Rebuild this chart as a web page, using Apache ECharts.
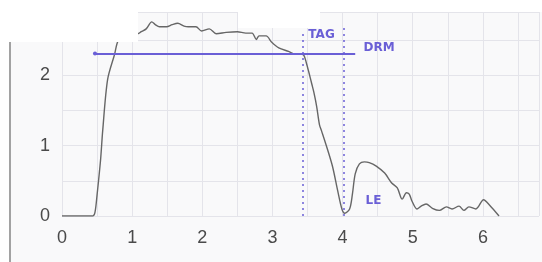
<!DOCTYPE html>
<html>
<head>
<meta charset="utf-8">
<script src="https://cdn.jsdelivr.net/npm/echarts@6/dist/echarts.min.js"></script>
<style>
  html, body { margin: 0; padding: 0; background: #fff; }
  #chart { width: 542px; height: 262px; }
</style>
</head>
<body>
<div id="chart"></div>
<script>
// trace (x, y)
const traceX = [0, 0.2, 0.44, 0.47, 0.5, 0.55, 0.58, 0.65, 0.75, 0.8, 0.9, 1.0, 1.08, 1.13, 1.2, 1.28, 1.33,
  1.39, 1.49, 1.57, 1.65, 1.74, 1.8, 1.91, 1.99, 2.1, 2.2, 2.34, 2.5, 2.62, 2.71, 2.77, 2.81, 2.91, 2.99,
  3.09, 3.23, 3.33, 3.42, 3.45, 3.48, 3.52, 3.56, 3.59, 3.63, 3.67, 3.7, 3.79, 3.86, 3.93, 3.99, 4.03,
  4.1, 4.14, 4.18, 4.24, 4.31, 4.38, 4.48, 4.6, 4.7, 4.78, 4.85, 4.91, 4.95, 4.99, 5.06, 5.12, 5.19,
  5.28, 5.38, 5.48, 5.56, 5.66, 5.73, 5.8, 5.9, 6.01, 6.09, 6.23]
const traceY = [0, 0, 0, 0.05, 0.3, 0.8, 1.21, 1.94, 2.3, 2.49, 2.57, 2.6, 2.59, 2.62, 2.66, 2.76, 2.72,
  2.69, 2.69, 2.72, 2.74, 2.7, 2.69, 2.69, 2.63, 2.66, 2.59, 2.61, 2.62, 2.6, 2.6, 2.51, 2.56, 2.56, 2.47,
  2.39, 2.34, 2.3, 2.3, 2.28, 2.19, 2.04, 1.88, 1.76, 1.56, 1.3, 1.21, 0.93, 0.69, 0.36, 0.1, 0.04,
  0.1, 0.31, 0.6, 0.74, 0.77, 0.76, 0.71, 0.61, 0.47, 0.4, 0.24, 0.33, 0.31, 0.21, 0.1, 0.14, 0.17,
  0.11, 0.08, 0.13, 0.1, 0.14, 0.08, 0.13, 0.1, 0.23, 0.16, 0]

// annotation levels
const drmLevel = 2.31
const drmFrom = 0.47
const drmTo = 4.18
const tagX = 3.43
const leX = 4.01
const tagTop = 2.64
const leTop = 2.7
const noteNames = ['DRM', 'TAG', 'LE']
const noteX = [4.52, 3.7, 4.44]
const noteY = [2.39, 2.58, 0.21]

const chart = echarts.init(document.getElementById('chart'))

const blue = '#6a5fd6'
const gridColor = '#e4e4ea'
const labelColor = '#4a4a4a'

const intOnly = v => (Number.isInteger(v) ? String(v) : '')

const option = {
  animation: false,
  backgroundColor: '#ffffff',
  grid: { left: 62, right: 0, top: 12, bottom: 46 },
  xAxis: {
    type: 'value',
    min: 0,
    max: 6.8,
    interval: 0.5,
    axisLine: { show: false },
    axisTick: { show: false },
    axisLabel: {
      formatter: intOnly, color: labelColor, fontSize: 18,
      fontFamily: 'Liberation Sans', margin: 13,
    },
    splitLine: { lineStyle: { color: gridColor, width: 1 } },
  },
  yAxis: {
    type: 'value',
    min: 0,
    max: 2.9,
    interval: 0.5,
    axisLine: { show: false },
    axisTick: { show: false },
    axisLabel: {
      formatter: intOnly, color: labelColor, fontSize: 18,
      fontFamily: 'Liberation Sans', margin: 12,
    },
    splitLine: { lineStyle: { color: gridColor, width: 1 } },
  },
  graphic: [
    // paper
    { type: 'rect', z: -5, silent: true, shape: { x: 10, y: 12, width: 532, height: 250 }, style: { fill: '#f9f9fa' } },
    // white bands left by the scan
    { type: 'rect', z: 50, silent: true, shape: { x: 0, y: 0, width: 138, height: 42 }, style: { fill: '#fff' } },
    { type: 'rect', z: 50, silent: true, shape: { x: 138, y: 0, width: 100, height: 12 }, style: { fill: '#fff' } },
    { type: 'rect', z: 50, silent: true, shape: { x: 238, y: 0, width: 82, height: 28 }, style: { fill: '#fff' } },
    { type: 'rect', z: 50, silent: true, shape: { x: 320, y: 0, width: 222, height: 12 }, style: { fill: '#fff' } },
    { type: 'rect', z: 50, silent: true, shape: { x: 0, y: 0, width: 9, height: 262 }, style: { fill: '#fff' } },
    // paper edge
    { type: 'line', z: 51, silent: true, shape: { x1: 10, y1: 42, x2: 10, y2: 262 }, style: { stroke: '#a2a2a2', lineWidth: 2 } },
  ],
  series: [
    {
      type: 'line',
      data: traceX.map((x, i) => [x, traceY[i]]),
      showSymbol: false,
      smooth: 0.3,
      lineStyle: { color: '#666666', width: 1.4 },
      markLine: {
        silent: true,
        symbol: 'none',
        label: { show: false },
        data: [
          [
            { coord: [drmFrom, drmLevel], symbol: 'circle', symbolSize: 4, lineStyle: { color: blue, width: 2, type: 'solid' } },
            { coord: [drmTo, drmLevel] },
          ],
          [
            { coord: [tagX, 0], lineStyle: { color: blue, width: 1.5, type: [2, 4] } },
            { coord: [tagX, tagTop] },
          ],
          [
            { coord: [leX, 0], lineStyle: { color: blue, width: 1.5, type: [2, 4] } },
            { coord: [leX, leTop] },
          ],
        ],
      },
      markPoint: {
        silent: true,
        symbol: 'circle',
        symbolSize: 0,
        label: {
          show: true, position: 'inside', formatter: '{b}', color: blue,
          fontSize: 12, fontWeight: 'bold', fontFamily: 'DejaVu Sans',
        },
        data: noteNames.map((n, i) => ({ name: n, coord: [noteX[i], noteY[i]] })),
      },
    },
  ],
}

chart.setOption(option)
</script>
</body>
</html>
